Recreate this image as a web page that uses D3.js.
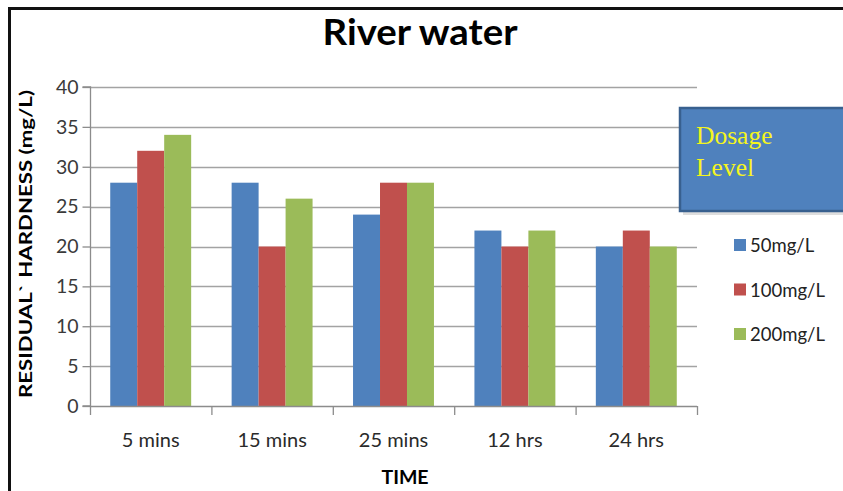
<!DOCTYPE html>
<html><head><meta charset="utf-8">
<script src="https://cdn.jsdelivr.net/npm/d3@7"></script>
<style>body{margin:0;background:#fff}svg{display:block}</style>
</head><body>
<svg id="c" width="843" height="491"></svg>
<script>
const categories = ["5 mins","15 mins","25 mins","12 hrs","24 hrs"];
const seriesNames = ["50mg/L","100mg/L","200mg/L"];
const s50 = [28,28,24,22,20];
const s100 = [32,20,28,20,22];
const s200 = [34,26,28,22,20];
const yTicks = [0,5,10,15,20,25,30,35,40];
const colors = ["#4f81bd","#c0504d","#9bbb59"];
const series = [s50,s100,s200];

const svg = d3.select("#c");
const font = "Lato, 'Open Sans', sans-serif";
// frame
svg.append("line").attr("x1",8).attr("x2",843).attr("y1",8.5).attr("y2",8.5).attr("stroke","#111").attr("stroke-width",3);
svg.append("line").attr("x1",9.5).attr("x2",9.5).attr("y1",7).attr("y2",491).attr("stroke","#111").attr("stroke-width",3);

const x0 = 90, x1 = 697, yb = 406, yt = 87;
const x = d3.scaleBand().domain(categories).range([x0,x1]).paddingInner(0).paddingOuter(0);
const y = d3.scaleLinear().domain([0,40]).range([yb,yt]);
const bw = x.bandwidth()/4.5;
const xs = d3.scaleBand().domain(d3.range(3)).range([bw*0.75, bw*3.75]);

// gridlines
svg.append("g").selectAll("line").data(yTicks.filter(d=>d>0)).join("line")
  .attr("x1",x0).attr("x2",x1).attr("y1",d=>Math.round(y(d))+0.5).attr("y2",d=>Math.round(y(d))+0.5)
  .attr("stroke","#a3a3a3").attr("stroke-width",1.4);

// bars
series.forEach((s,i)=>{
  svg.append("g").selectAll("rect").data(s).join("rect")
    .attr("x",(d,j)=>x(categories[j])+xs(i)).attr("width",xs.bandwidth())
    .attr("y",d=>y(d)).attr("height",d=>yb-y(d)).attr("fill",colors[i]);
});

// y axis
const ya = d3.axisLeft(y).tickValues(yTicks).tickSize(8).tickPadding(4);
const gy = svg.append("g").attr("transform",`translate(${x0+0.5},0)`).call(ya);
gy.select(".domain").attr("stroke","#8c8c8c").attr("stroke-width",1.3).attr("d",`M-8,${y(40)}H0V${yb}H-8`);
gy.selectAll(".tick line").attr("stroke","#8c8c8c").attr("stroke-width",1.3);
gy.selectAll(".tick text").attr("font-family",font).attr("font-size",19.5).attr("fill","#3a3a3a");

// x axis
const xa = d3.axisBottom(x).tickSize(0).tickPadding(0);
const gx = svg.append("g").attr("transform",`translate(0,${yb+0.5})`).call(xa);
gx.select(".domain").attr("stroke","#8c8c8c").attr("stroke-width",1.3).attr("d",`M${x0},0H${x1}`);
gx.selectAll(".tick text").attr("font-family",font).attr("font-size",20).attr("fill","#2a2a2a")
  .attr("dy",null).attr("y",40.5);
const bounds = categories.map(c=>x(c)).concat([x1]);
svg.append("g").selectAll("line").data(bounds).join("line")
  .attr("x1",d=>d+0.5).attr("x2",d=>d+0.5).attr("y1",yb).attr("y2",yb+9)
  .attr("stroke","#8c8c8c").attr("stroke-width",1.3);

// titles
svg.append("text").attr("x",420).attr("y",45).attr("text-anchor","middle")
  .attr("font-family",font).attr("font-weight","bold").attr("font-size",37).attr("fill","#000")
  .attr("textLength",195).attr("lengthAdjust","spacingAndGlyphs").text("River water");
svg.append("text").attr("transform","translate(31.5,244) rotate(-90)").attr("text-anchor","middle")
  .attr("font-family",font).attr("font-weight","bold").attr("font-size",16.5).attr("fill","#000")
  .attr("textLength",308).attr("lengthAdjust","spacingAndGlyphs").text("RESIDUAL` HARDNESS (mg/L)");
svg.append("text").attr("x",405).attr("y",484).attr("text-anchor","middle")
  .attr("font-family",font).attr("font-weight","bold").attr("font-size",19.5).attr("fill","#000").text("TIME");

// Dosage level box
svg.append("rect").attr("x",683).attr("y",111).attr("width",170).attr("height",104).attr("fill","#c8c8c8").attr("opacity",0.6);
svg.append("rect").attr("x",680).attr("y",108).attr("width",170).attr("height",103)
  .attr("fill","#4f81bd").attr("stroke","#38608f").attr("stroke-width",2.5);
svg.append("text").attr("x",696).attr("y",144).attr("font-family","'Liberation Serif', 'DejaVu Serif', serif")
  .attr("font-size",25.5).attr("fill","#f5f51e").text("Dosage");
svg.append("text").attr("x",696).attr("y",176).attr("font-family","'Liberation Serif', 'DejaVu Serif', serif")
  .attr("font-size",25.5).attr("fill","#f5f51e").text("Level");

// legend
const lg = svg.append("g").selectAll("g").data(seriesNames).join("g")
  .attr("transform",(d,i)=>`translate(734,${245+i*44.5})`);
lg.append("rect").attr("x",0).attr("y",-6).attr("width",12).attr("height",12).attr("fill",(d,i)=>colors[i]);
lg.append("text").attr("x",16).attr("y",7).attr("font-family",font).attr("font-size",18.5).attr("fill","#222").text(d=>d);
</script>
</body></html>
